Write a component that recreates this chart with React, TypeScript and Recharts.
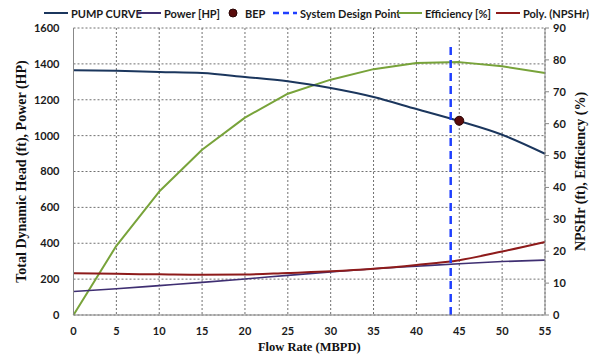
import React from "react";
import {
  ComposedChart,
  Line,
  Scatter,
  XAxis,
  YAxis,
  CartesianGrid,
} from "recharts";

const flowRate = [0, 5, 10, 15, 20, 25, 30, 35, 40, 45, 50, 55];
const pumpCurve = [1365, 1362, 1355, 1349, 1327, 1303, 1265, 1215, 1148, 1081, 1005, 899];
const powerHP = [131, 146, 164, 182, 201, 221, 240, 258, 272, 286, 298, 306];
const efficiency = [0, 21.7, 38.7, 51.8, 61.9, 69.4, 73.8, 77.1, 79.0, 79.3, 78.0, 75.9];
const npshr = [13.1, 12.9, 12.75, 12.6, 12.7, 13.2, 13.7, 14.5, 15.7, 17.2, 19.9, 22.9];

const bepFlow = [45];
const bepHead = [1083];
const designFlow = [44, 44];
const designHead = [0, 1500];

const xTicks = [0, 5, 10, 15, 20, 25, 30, 35, 40, 45, 50, 55];
const leftTicks = [0, 200, 400, 600, 800, 1000, 1200, 1400, 1600];
const rightTicks = [0, 10, 20, 30, 40, 50, 60, 70, 80, 90];

const legendItems = [
  { name: "PUMP CURVE", color: "#1B365D", kind: "line", left: 44 },
  { name: "Power [HP]", color: "#3F2F72", kind: "line", left: 137 },
  { name: "BEP", color: "#5A0C0C", kind: "dot", left: 226 },
  { name: "System Design Point", color: "#1F3FFF", kind: "dash", left: 273 },
  { name: "Efficiency [%]", color: "#78A33A", kind: "line", left: 398 },
  { name: "Poly. (NPSHr)", color: "#8E1B1B", kind: "line", left: 496 },
];

const tableData = flowRate.map((f, i) => ({
  flow: f,
  pump: pumpCurve[i],
  power: powerHP[i],
  eff: efficiency[i],
  npshr: npshr[i],
}));
const bepData = bepFlow.map((f, i) => ({ flow: f, head: bepHead[i] }));
const designData = designFlow.map((f, i) => ({ flow: f, head: designHead[i] }));

const tickFont = {
  fontFamily: "Lato, 'Liberation Sans', sans-serif",
  fontWeight: 700,
  fontSize: 11,
  fill: "#1a1a1a",
};

const serifTitle = {
  fontFamily: "'Liberation Serif', 'DejaVu Serif', serif",
  fontWeight: 700,
  fontSize: 14,
  fill: "#111",
};

const Legend = () => (
  <div
    style={{
      position: "absolute",
      top: 5,
      left: 0,
      width: 595,
      height: 16,
      fontFamily: "Lato, 'Liberation Sans', sans-serif",
      fontWeight: 700,
      fontSize: 11,
      color: "#1a1a1a",
      whiteSpace: "nowrap",
    }}
  >
    {legendItems.map((it) => (
      <div
        key={it.name}
        style={{ position: "absolute", left: it.left, top: 0, display: "flex", alignItems: "center", height: 16 }}
      >
        <svg width={it.kind === "dot" ? 16 : 24} height={12} style={{ marginRight: 3 }}>
          {it.kind === "line" && (
            <line x1={0} y1={6} x2={24} y2={6} stroke={it.color} strokeWidth={2} />
          )}
          {it.kind === "dash" && (
            <line x1={0} y1={6} x2={24} y2={6} stroke={it.color} strokeWidth={2.5} strokeDasharray="6 4" />
          )}
          {it.kind === "dot" && <circle cx={7} cy={6} r={4} fill={it.color} stroke="#2a0505" />}
        </svg>
        <span>{it.name}</span>
      </div>
    ))}
  </div>
);

export default function App() {
  return (
    <div style={{ position: "fixed", left: 0, top: 0, width: 595, height: 354, background: "#fff" }}>
      <Legend />
      <ComposedChart
        width={595}
        height={354}
        data={tableData}
        margin={{ top: 28, right: 0, bottom: 0, left: 0 }}
      >
        <CartesianGrid
          xAxisId={0}
          yAxisId="left"
          stroke="#707070"
          strokeWidth={1}
          strokeDasharray="2 2"
          horizontal={true}
          vertical={true}
        />
        <XAxis
          dataKey="flow"
          type="number"
          domain={[0, 55]}
          ticks={xTicks}
          height={39}
          tickLine={false}
          axisLine={{ stroke: "#888", strokeWidth: 1 }}
          tick={tickFont}
          tickMargin={6}
          allowDuplicatedCategory={false}
          label={{
            value: "Flow Rate (MBPD)",
            position: "insideBottom",
            offset: 3,
            style: { ...serifTitle, fontSize: 12.5 },
          }}
        />
        <YAxis
          yAxisId="left"
          domain={[0, 1600]}
          ticks={leftTicks}
          width={73.5}
          tickLine={false}
          axisLine={{ stroke: "#888", strokeWidth: 1 }}
          tick={tickFont}
          tickMargin={8}
          label={{
            value: "Total Dynamic Head (ft), Power (HP)",
            angle: -90,
            position: "center",
            dx: -16,
            style: serifTitle,
          }}
        />
        <YAxis
          yAxisId="right"
          orientation="right"
          domain={[0, 90]}
          ticks={rightTicks}
          width={50}
          tickLine={{ stroke: "#888" }}
          tickSize={4}
          axisLine={{ stroke: "#888", strokeWidth: 1 }}
          tick={tickFont}
          tickMargin={4}
          label={{
            value: "NPSHr (ft), Efficiency (%)",
            angle: -90,
            position: "center",
            dx: 10,
            style: serifTitle,
          }}
        />
        <Line
          yAxisId="right"
          dataKey="eff"
          type="linear"
          stroke="#78A33A"
          strokeWidth={2}
          strokeLinejoin="round"
          dot={false}
          isAnimationActive={false}
        />
        <Line
          yAxisId="left"
          dataKey="power"
          type="monotone"
          stroke="#3F2F72"
          strokeWidth={1.6}
          dot={false}
          isAnimationActive={false}
        />
        <Line
          yAxisId="right"
          dataKey="npshr"
          type="monotone"
          stroke="#8E1B1B"
          strokeWidth={2}
          dot={false}
          isAnimationActive={false}
        />
        <Line
          yAxisId="left"
          dataKey="pump"
          type="monotone"
          stroke="#1B365D"
          strokeWidth={2}
          dot={false}
          isAnimationActive={false}
        />
        <Line
          yAxisId="left"
          data={designData}
          dataKey="head"
          type="linear"
          stroke="#1F3FFF"
          strokeWidth={2.5}
          strokeDasharray="8 5"
          dot={false}
          isAnimationActive={false}
        />
        <Scatter
          yAxisId="left"
          data={bepData}
          dataKey="head"
          fill="#5A0C0C"
          stroke="#2a0505"
          shape={(p: any) => (
            <circle cx={p.cx} cy={p.cy} r={4.5} fill="#5A0C0C" stroke="#2a0505" strokeWidth={1} />
          )}
          isAnimationActive={false}
        />
      </ComposedChart>
    </div>
  );
}
